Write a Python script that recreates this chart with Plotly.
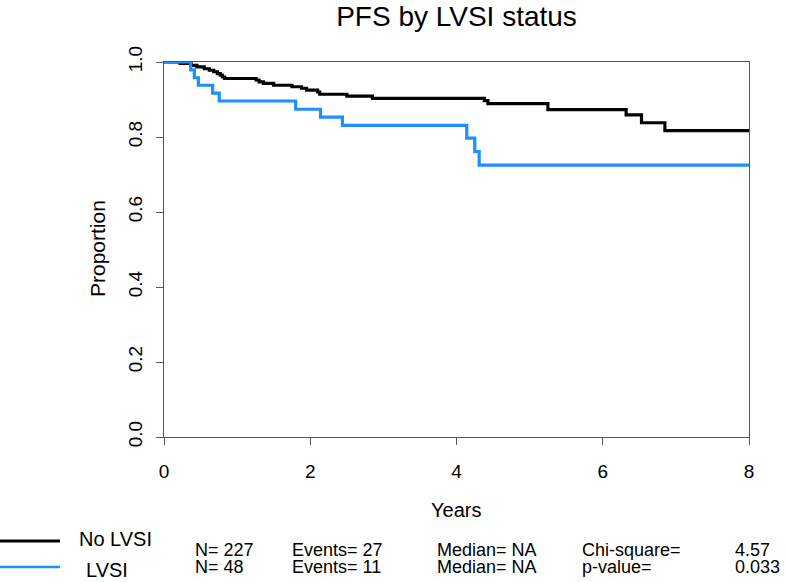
import plotly.graph_objects as go

# ---- data ----
times_no_lvsi = [0, 0.22, 0.37, 0.45, 0.55, 0.62, 0.68, 0.73, 0.77, 0.80, 0.83,
                 1.26, 1.30, 1.36, 1.50, 1.75, 1.88, 1.95, 2.10, 2.13, 2.50, 2.85,
                 4.38, 4.43, 5.25, 6.32, 6.53, 6.85, 8.0]
surv_no_lvsi = [1.0, 0.996, 0.991, 0.987, 0.982, 0.978, 0.974, 0.969, 0.965, 0.960, 0.956,
                0.952, 0.947, 0.943, 0.938, 0.934, 0.930, 0.925, 0.920, 0.914, 0.909, 0.903,
                0.897, 0.889, 0.873, 0.859, 0.838, 0.817, 0.817]

times_lvsi = [0, 0.365, 0.415, 0.47, 0.665, 0.756, 1.80, 2.14, 2.44, 4.14, 4.25, 4.31, 8.0]
surv_lvsi = [1.0, 0.979, 0.958, 0.938, 0.917, 0.896, 0.874, 0.853, 0.831, 0.797, 0.761, 0.725, 0.725]

group_names = ["No LVSI", "LVSI"]
n_values = ["227", "48"]
event_values = ["27", "11"]
median_values = ["NA", "NA"]
test_labels = ["Chi-square=", "p-value="]
test_values = ["4.57", "0.033"]
x_ticks = [0, 2, 4, 6, 8]
y_ticks = [0.0, 0.2, 0.4, 0.6, 0.8, 1.0]

BLACK = "#000000"
BLUE = "#1E8FFF"
AXIS = "#555555"
FONT = "Liberation Sans, Arial, sans-serif"

W, H = 787, 582
L, R, T, B = 164, 38, 62, 145
PW, PH = W - L - R, H - T - B


def px_x(px):
    return (px - L) / PW


def px_y(py):
    return (H - B - py) / PH


fig = go.Figure()
fig.add_trace(go.Scatter(x=times_no_lvsi, y=surv_no_lvsi, mode="lines", line_shape="hv",
                         line=dict(color=BLACK, width=3.2), showlegend=False))
fig.add_trace(go.Scatter(x=times_lvsi, y=surv_lvsi, mode="lines", line_shape="hv",
                         line=dict(color=BLUE, width=3.2), showlegend=False))

fig.update_layout(
    width=W, height=H,
    margin=dict(l=L, r=R, t=T, b=B),
    paper_bgcolor="white", plot_bgcolor="white",
    font=dict(family=FONT, color="black"),
    title=dict(text="PFS by LVSI status", font=dict(size=28, color="black"),
               x=0.5, xref="paper", xanchor="center",
               y=1 - 16 / H, yref="container", yanchor="middle"),
)
fig.update_xaxes(range=[0, 8], tickvals=x_ticks, ticktext=[str(v) for v in x_ticks],
                 showgrid=False, zeroline=False, showline=True, linecolor=AXIS, linewidth=1.3,
                 mirror=True, ticks="outside", ticklen=7, tickcolor=AXIS, tickwidth=1.3,
                 tickfont=dict(size=19), ticklabelstandoff=10)
fig.update_yaxes(range=[0, 1], tickvals=y_ticks, ticktext=[f"{v:.1f}" for v in y_ticks],
                 showgrid=False, zeroline=False, showline=True, linecolor=AXIS, linewidth=1.3,
                 mirror=True, ticks="outside", ticklen=7, tickcolor=AXIS, tickwidth=1.3,
                 tickfont=dict(size=19), tickangle=-90, ticklabelstandoff=6)

ann = []
ann.append(dict(text="Years", x=px_x(456), y=px_y(510), xref="paper", yref="paper",
                showarrow=False, xanchor="center", yanchor="middle", font=dict(size=20)))
ann.append(dict(text="Proportion", x=px_x(97), y=px_y(249), xref="paper", yref="paper",
                showarrow=False, xanchor="center", yanchor="middle", textangle=-90,
                font=dict(size=21)))

row_y = [550, 567]
name_x = [77, 84]
name_y = [539, 570]
for i in range(2):
    ann.append(dict(text=group_names[i], x=px_x(name_x[i]), y=px_y(name_y[i]), xref="paper",
                    yref="paper", showarrow=False, xanchor="left", yanchor="middle",
                    font=dict(size=20)))
    ann.append(dict(text=f"N= {n_values[i]}", x=px_x(193), y=px_y(row_y[i]), xref="paper",
                    yref="paper", showarrow=False, xanchor="left", yanchor="middle",
                    font=dict(size=18)))
    ann.append(dict(text=f"Events= {event_values[i]}", x=px_x(290), y=px_y(row_y[i]),
                    xref="paper", yref="paper", showarrow=False, xanchor="left",
                    yanchor="middle", font=dict(size=18)))
    ann.append(dict(text=f"Median= {median_values[i]}", x=px_x(435), y=px_y(row_y[i]),
                    xref="paper", yref="paper", showarrow=False, xanchor="left",
                    yanchor="middle", font=dict(size=18)))
    ann.append(dict(text=test_labels[i], x=px_x(580), y=px_y(row_y[i]), xref="paper",
                    yref="paper", showarrow=False, xanchor="left", yanchor="middle",
                    font=dict(size=18)))
    ann.append(dict(text=test_values[i], x=px_x(733), y=px_y(row_y[i]), xref="paper",
                    yref="paper", showarrow=False, xanchor="left", yanchor="middle",
                    font=dict(size=18)))
fig.update_layout(annotations=ann)

legend_colors = [BLACK, BLUE]
legend_y = [541, 567]
legend_w = [3, 2.5]
shapes = []
for i in range(2):
    shapes.append(dict(type="line", xref="paper", yref="paper",
                       x0=px_x(0), x1=px_x(60), y0=px_y(legend_y[i]), y1=px_y(legend_y[i]),
                       line=dict(color=legend_colors[i], width=legend_w[i])))
fig.update_layout(shapes=shapes)

fig.write_html("out.html", config={"displayModeBar": False},
               post_script="document.body.style.margin='0';document.body.style.overflow='hidden';")
